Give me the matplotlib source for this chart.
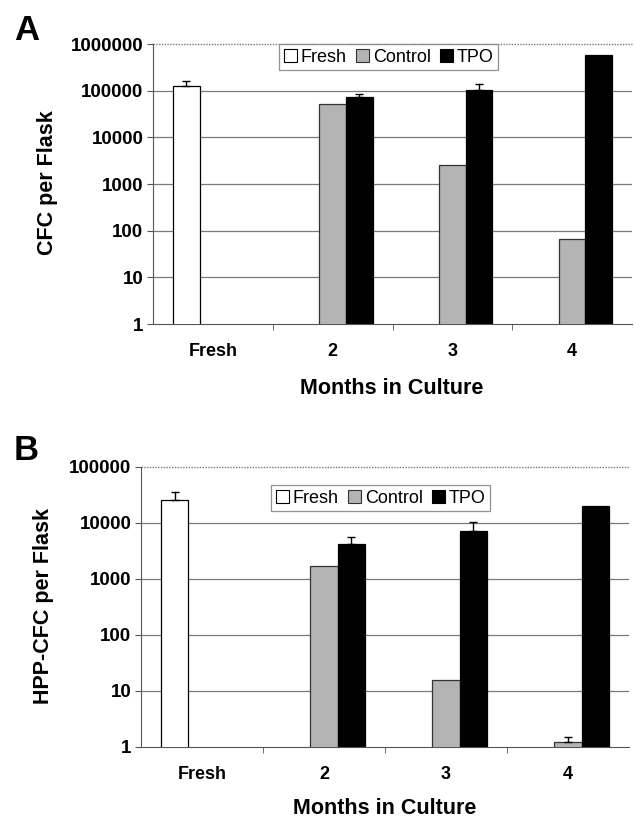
import numpy as np
import matplotlib
matplotlib.use("Agg")
import matplotlib.pyplot as plt
from matplotlib.patches import Patch

plt.rcParams['font.family'] = ['Liberation Sans', 'DejaVu Sans']

categories = ["Fresh", "2", "3", "4"]
series = ["Fresh", "Control", "TPO"]

# Panel A: CFC per flask
a_fresh = [129000, np.nan, np.nan, np.nan]
a_fresh_err = [33000, 0, 0, 0]
a_control = [np.nan, 53000, 2500, 65]
a_control_err = [0, 0, 0, 0]
a_tpo = [np.nan, 74000, 104000, 580000]
a_tpo_err = [0, 9000, 38000, 0]

# Panel B: HPP-CFC per flask
b_fresh = [25400, np.nan, np.nan, np.nan]
b_fresh_err = [9600, 0, 0, 0]
b_control = [np.nan, 1700, 15.5, 1.23]
b_control_err = [0, 0, 0, 0.27]
b_tpo = [np.nan, 4100, 7100, 20000]
b_tpo_err = [0, 1500, 3400, 0]

colors = ["white", "#b4b4b4", "black"]
edges = ["black", "#333333", "black"]

fig = plt.figure(figsize=(6.34, 8.23), dpi=100)
W, H = 634, 823


def panel(rect, vals, errs, ymax, ylabel, letter, letter_y, ylabel_xy, xlabel_xy, leg_xy):
    ax = fig.add_axes(rect)
    ax.set_yscale('log')
    x = np.arange(len(categories))
    bw = 0.222
    offs = [-bw, 0, bw]
    for i, (v, e) in enumerate(zip(vals, errs)):
        v = np.array(v, dtype=float)
        e = np.array(e, dtype=float)
        ax.bar(x + offs[i], v, width=bw, color=colors[i], edgecolor=edges[i],
               linewidth=0.9, zorder=3)
        m = (e > 0) & ~np.isnan(v)
        if m.any():
            ax.errorbar((x + offs[i])[m], v[m], yerr=[np.zeros(m.sum()), e[m]],
                        fmt='none', ecolor='black', elinewidth=1, capsize=3,
                        capthick=1, zorder=4)
    ax.set_xlim(-0.5, 3.5)
    ax.set_ylim(1, ymax)
    decades = [10 ** k for k in range(int(np.log10(ymax)) + 1)]
    ax.set_yticks(decades)
    ax.set_yticklabels([str(d) for d in decades])
    ax.yaxis.set_minor_locator(matplotlib.ticker.NullLocator())
    for d in decades[1:-1]:
        ax.axhline(d, color='#7a7a7a', lw=0.9, zorder=1)
    ax.axhline(ymax, color='#7a7a7a', lw=1.0, ls=(0, (1, 1)), zorder=1, clip_on=False)
    ax.set_xticks(x)
    ax.set_xticklabels(categories)
    ax.set_xticks([0.5, 1.5, 2.5], minor=True)
    ax.tick_params(axis='x', which='major', length=0, pad=14, labelsize=13)
    ax.tick_params(axis='x', which='minor', length=4, direction='out', color='#555555')
    ax.tick_params(axis='y', which='major', length=4, direction='out', color='#555555',
                   labelsize=13.5, pad=3)
    for lab in ax.get_xticklabels() + ax.get_yticklabels():
        lab.set_fontweight('bold')
    for s in ['top', 'right']:
        ax.spines[s].set_visible(False)
    ax.spines['left'].set_color('#555555')
    ax.spines['bottom'].set_color('#555555')
    fig.text(ylabel_xy[0] / W, 1 - ylabel_xy[1] / H, ylabel, rotation=90,
             ha='center', va='center', fontsize=15.5, fontweight='bold')
    fig.text(xlabel_xy[0] / W, 1 - xlabel_xy[1] / H, "Months in Culture",
             ha='center', va='center', fontsize=15.5, fontweight='bold')
    fig.text(14 / W, 1 - letter_y / H, letter, ha='left', va='top',
             fontsize=25, fontweight='bold')
    handles = [Patch(facecolor=colors[i], edgecolor=edges[i], linewidth=0.8)
               for i in range(3)]
    leg = fig.legend(handles, series, loc='upper left',
                     bbox_to_anchor=(leg_xy[0] / W, 1 - leg_xy[1] / H),
                     ncol=3, fontsize=13, frameon=True, fancybox=False,
                     handlelength=0.75, handleheight=0.75, handletextpad=0.2,
                     columnspacing=0.5, borderpad=0.25, borderaxespad=0)
    leg.get_frame().set_edgecolor('#777777')
    leg.get_frame().set_linewidth(0.9)
    return ax


panel([153 / W, (H - 324) / H, 479 / W, 280 / H],
      [a_fresh, a_control, a_tpo], [a_fresh_err, a_control_err, a_tpo_err],
      1e6, "CFC per Flask", "A", 14, (47, 183), (392, 388), (279, 44))
panel([141 / W, (H - 746.7) / H, 488 / W, 280 / H],
      [b_fresh, b_control, b_tpo], [b_fresh_err, b_control_err, b_tpo_err],
      1e5, "HPP-CFC per Flask", "B", 434, (44, 606), (385, 809), (271, 485))

fig.savefig("out.png", dpi=100)
